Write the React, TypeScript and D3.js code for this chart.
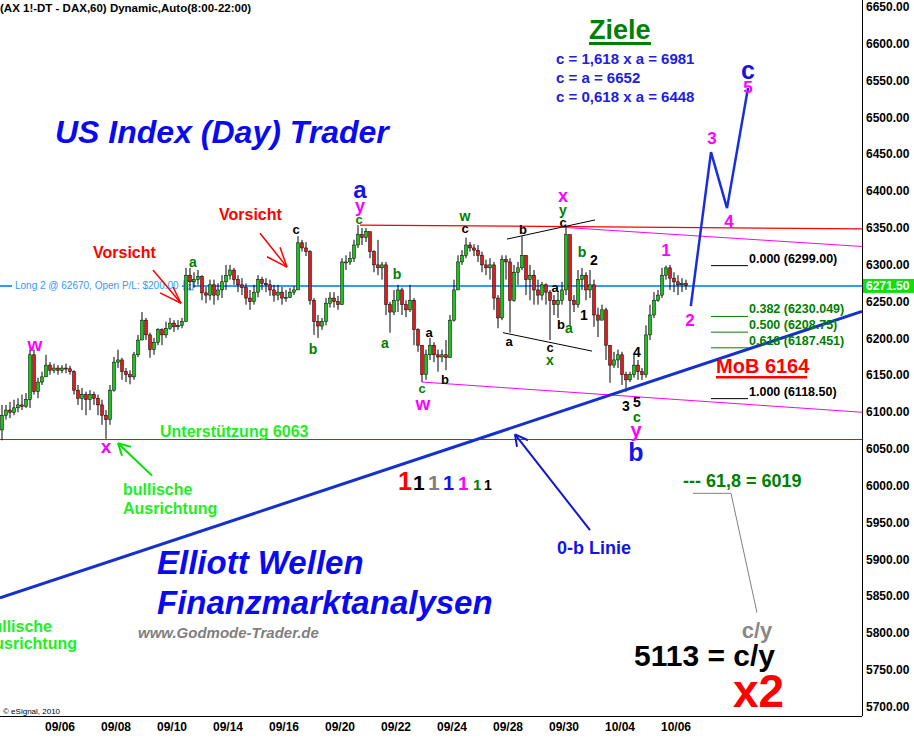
import React from "react";
import * as d3 from "d3";

const W = 914,
  H = 738;
const plotRight = 862,
  plotBottom = 716;
const FONT = "Arial, 'Liberation Sans', sans-serif";

// hourly DAX bars: [high, low, close], open = previous close
const firstOpen = 6076;
const bars: [number, number, number][] = [
  [6110, 6062, 6096], [6110, 6090, 6103], [6114, 6092, 6100], [6117, 6096, 6106], [6119, 6100, 6110], [6124, 6103, 6108], [6126, 6106, 6117],
  [6185, 6106, 6178], [6185, 6124, 6128], [6147, 6119, 6141], [6155, 6137, 6148], [6178, 6148, 6164], [6168, 6151, 6157], [6166, 6153, 6160],
  [6164, 6151, 6157], [6164, 6153, 6160], [6166, 6153, 6159], [6163, 6151, 6155], [6157, 6124, 6130], [6137, 6110, 6119], [6133, 6103, 6124],
  [6128, 6096, 6117], [6130, 6103, 6124], [6128, 6110, 6119], [6124, 6096, 6110], [6117, 6083, 6096], [6103, 6064, 6090], [6137, 6083, 6130],
  [6175, 6128, 6168], [6185, 6160, 6171], [6174, 6144, 6155], [6160, 6141, 6151], [6157, 6138, 6148], [6182, 6144, 6178], [6205, 6175, 6198],
  [6236, 6198, 6225], [6228, 6198, 6205], [6208, 6174, 6185], [6201, 6178, 6195], [6214, 6191, 6212], [6214, 6191, 6205], [6223, 6201, 6214],
  [6228, 6212, 6221], [6225, 6209, 6216], [6225, 6212, 6218], [6228, 6214, 6223], [6296, 6223, 6286], [6296, 6266, 6277], [6290, 6269, 6280],
  [6293, 6273, 6284], [6286, 6252, 6262], [6270, 6248, 6259], [6280, 6252, 6273], [6280, 6246, 6259], [6275, 6252, 6266], [6286, 6255, 6277],
  [6300, 6266, 6286], [6300, 6280, 6293], [6296, 6273, 6280], [6286, 6263, 6273], [6282, 6259, 6269], [6275, 6246, 6255], [6266, 6239, 6250],
  [6273, 6246, 6263], [6286, 6256, 6280], [6284, 6266, 6275], [6282, 6263, 6273], [6280, 6258, 6266], [6273, 6250, 6259], [6273, 6252, 6263],
  [6270, 6246, 6255], [6266, 6250, 6256], [6269, 6255, 6263], [6271, 6259, 6266], [6339, 6266, 6330], [6334, 6318, 6323], [6331, 6312, 6318],
  [6320, 6246, 6252], [6255, 6205, 6223], [6232, 6201, 6217], [6228, 6212, 6223], [6255, 6218, 6248], [6263, 6242, 6255], [6263, 6242, 6250],
  [6258, 6239, 6246], [6309, 6246, 6304], [6313, 6293, 6304], [6318, 6300, 6309], [6334, 6304, 6327], [6354, 6323, 6341], [6350, 6327, 6337],
  [6350, 6331, 6345], [6345, 6309, 6318], [6320, 6290, 6300], [6334, 6286, 6296], [6304, 6280, 6300], [6304, 6232, 6246], [6250, 6208, 6236],
  [6266, 6232, 6252], [6273, 6236, 6266], [6269, 6232, 6246], [6252, 6229, 6239], [6273, 6236, 6252], [6255, 6191, 6212], [6214, 6182, 6191],
  [6191, 6141, 6151], [6185, 6144, 6178], [6201, 6171, 6191], [6195, 6168, 6178], [6185, 6155, 6175], [6185, 6168, 6178], [6198, 6157, 6174],
  [6232, 6174, 6225], [6280, 6223, 6266], [6313, 6266, 6304], [6320, 6300, 6313], [6337, 6309, 6327], [6331, 6318, 6323], [6328, 6312, 6320],
  [6327, 6304, 6313], [6318, 6290, 6300], [6307, 6286, 6296], [6309, 6280, 6300], [6304, 6239, 6255], [6259, 6214, 6228], [6313, 6225, 6307],
  [6313, 6280, 6304], [6309, 6208, 6252], [6300, 6250, 6290], [6304, 6273, 6296], [6339, 6293, 6313], [6313, 6259, 6280], [6300, 6252, 6286],
  [6293, 6246, 6266], [6280, 6246, 6259], [6277, 6252, 6273], [6275, 6246, 6263], [6266, 6198, 6252], [6259, 6232, 6246], [6263, 6228, 6252],
  [6277, 6246, 6266], [6351, 6259, 6341], [6341, 6216, 6252], [6259, 6236, 6246], [6293, 6242, 6280], [6296, 6266, 6286], [6290, 6252, 6266],
  [6293, 6255, 6273], [6280, 6216, 6232], [6242, 6202, 6225], [6246, 6225, 6239], [6242, 6171, 6191], [6191, 6140, 6164], [6182, 6160, 6171],
  [6185, 6160, 6178], [6182, 6137, 6151], [6155, 6128, 6144], [6155, 6141, 6151], [6178, 6147, 6164], [6171, 6144, 6155], [6160, 6144, 6151],
  [6218, 6147, 6205], [6246, 6198, 6232], [6263, 6228, 6252], [6266, 6250, 6259], [6296, 6255, 6286], [6299, 6280, 6296], [6300, 6266, 6282],
  [6290, 6263, 6277], [6286, 6259, 6273], [6282, 6263, 6275], [6280, 6266, 6272],
];

const dateLabels = ["09/06", "09/08", "09/10", "09/14", "09/16", "09/20", "09/22", "09/24", "09/28", "09/30", "10/04", "10/06"];
const dateTickBars = [14.5, 28.5, 42.5, 56.5, 70.5, 84.5, 98.5, 112.5, 126.5, 140.5, 154.5, 168.5];
const priceTicks = d3.range(5700, 6651, 50);

const lastPrice = 6271.5;
const supportLevel = 6063;
const fibHigh = 6299;
const fibLow = 6118.5;
const fibRatios = [0, 0.382, 0.5, 0.618, 1];

// lines as [bar index, price]
const resistanceLine: [number, number][] = [[89.5, 6354], [215, 6349]];
const upperPinkLine: [number, number][] = [[140.25, 6351], [215, 6325]];
const lowerPinkLine: [number, number][] = [[105, 6141], [215, 6100]];
const trendLine: [number, number][] = [[-0.5, 5848], [215, 6237]];
const channelTop: [number, number][] = [[126.25, 6335], [148.25, 6361]];
const channelBottom: [number, number][] = [[125.25, 6208], [147.5, 6183]];
const projection: [number, number][] = [[172.2, 6244], [177.25, 6453], [181.25, 6377], [186.5, 6540]];
const leaderLine: [number, number][] = [[172.75, 5990], [182.25, 5990], [188.75, 5828]];

const redArrows: { tip: [number, number]; tails: [number, number][] }[] = [
  { tip: [44.75, 6248], tails: [[37.75, 6293], [39.5, 6262], [42.75, 6270]] },
  { tip: [71.25, 6297], tails: [[64.5, 6343], [66.25, 6311], [69.5, 6324]] },
];
const greenArrow = { tip: [29, 6058] as [number, number], tail: [37.5, 6014] as [number, number], heads: [[32.25, 6053], [30, 6041]] as [number, number][] };
const blueArrow = { tip: [128.25, 6070] as [number, number], tail: [147, 5940] as [number, number], heads: [[128.75, 6053], [131.5, 6062]] as [number, number][] };

const G = "#008000",
  K = "#000",
  M = "#ff00ff",
  B = "#1414e6";

// Elliott wave counts: [text, x, y, color, size]
const waveLabels: [string, number, number, string, number][] = [
  ["w", 35, 344, M, 19], ["x", 106, 446, M, 19],
  ["a", 193, 262, G, 14], ["c", 296, 229, K, 13], ["b", 313, 349, G, 14],
  ["a", 360, 189, B, 24], ["y", 360, 206, M, 18], ["c", 359, 219, G, 13],
  ["a", 385, 343, G, 14], ["b", 397, 274, G, 14], ["c", 422, 388, G, 13], ["w", 423, 403, M, 19],
  ["a", 429, 332, K, 13], ["b", 445, 379, K, 13], ["w", 465, 216, G, 14], ["c", 465, 228, K, 13],
  ["b", 523, 229, K, 13], ["a", 509, 341, K, 13], ["c", 550, 347, K, 13], ["x", 550, 360, G, 14],
  ["x", 563, 196, M, 18], ["y", 563, 210, G, 14], ["c", 563, 222, K, 13],
  ["a", 555, 287, K, 13], ["b", 561, 324, K, 13], ["a", 569, 328, G, 14], ["b", 582, 252, G, 14],
  ["2", 594, 260, K, 14], ["1", 584, 315, K, 14], ["4", 637, 352, K, 14], ["3", 626, 406, K, 14],
  ["5", 637, 402, K, 14], ["c", 637, 417, G, 14], ["y", 636, 430, M, 20], ["b", 636, 452, B, 25],
  ["1", 666, 250, M, 17], ["2", 690, 320, M, 17], ["3", 712, 138, M, 17], ["4", 729, 221, M, 17],
  ["5", 748, 87, M, 17], ["c", 748, 70, B, 25],
];

const ones: [string, number, number][] = [
  ["#ff0000", 398, 25], ["#000", 413, 21], ["#808080", 428, 21], ["#1414e6", 443, 20],
  ["#ff00ff", 458, 19], ["#008000", 473, 15], ["#000", 484, 14],
];

const targets = ["c = 1,618 x a = 6981", "c = a = 6652", "c = 0,618 x a = 6448"];

const xs = d3.scaleLinear().domain([-0.5, 215]).range([0, plotRight]);
const ys = d3.scaleLinear().domain([5700, 6650]).range([707, 7]);
const line = d3
  .line<[number, number]>()
  .x((d) => xs(d[0]))
  .y((d) => ys(d[1]));

const fibText = (v: number) => {
  const s = v.toFixed(3);
  return s.endsWith("0") ? v.toFixed(2) : s;
};

export default function App() {
  const candles = bars.map((b, i) => {
    const [h, l, c] = b;
    const o = i === 0 ? firstOpen : bars[i - 1][2];
    const x = xs(i);
    const top = ys(Math.max(o, c));
    const bh = Math.max(1, Math.abs(ys(o) - ys(c)));
    return (
      <g key={i}>
        <line x1={x} x2={x} y1={ys(h)} y2={ys(l)} stroke="#000" strokeWidth={1} />
        <rect x={x - 1.5} y={top} width={3} height={bh} fill={c >= o ? "#19c419" : "#e41a1a"} stroke="#000" strokeWidth={0.5} />
      </g>
    );
  });

  const fibRange = fibHigh - fibLow;
  const yLast = ys(lastPrice);

  return (
    <svg width={W} height={H} style={{ position: "absolute", left: 0, top: 0, background: "#fff" }} fontFamily={FONT}>
      <rect width={W} height={H} fill="#fff" />

      {/* horizontal levels */}
      <line x1={0} x2={plotRight} y1={ys(supportLevel)} y2={ys(supportLevel)} stroke="#008000" strokeWidth={1} />
      <path d={line(resistanceLine)!} stroke="#ff0000" strokeWidth={1.2} fill="none" />
      <path d={line(upperPinkLine)!} stroke="#ff00ff" strokeWidth={1} fill="none" />
      <path d={line(lowerPinkLine)!} stroke="#ff00ff" strokeWidth={1} fill="none" />
      <path d={line(channelTop)!} stroke="#000" strokeWidth={1} fill="none" />
      <path d={line(channelBottom)!} stroke="#000" strokeWidth={1} fill="none" />

      {/* position line */}
      <line x1={0} x2={plotRight} y1={yLast} y2={yLast} stroke="#3399ff" strokeWidth={2} />
      <rect x={12} y={yLast - 6} width={170} height={12} fill="#fff" />
      <text x={15} y={yLast + 3.5} fontSize={10} fill="#3399ff">
        Long 2 @ 62670, Open P/L: $200.00
      </text>
      <rect x={184} y={yLast - 5} width={9} height={9} fill="#fff" stroke="#3399ff" strokeWidth={1} />
      <text x={188.5} y={yLast + 3} fontSize={8} fill="#3399ff" textAnchor="middle">Z</text>

      {candles}

      {/* trend line and projection */}
      <path d={line(trendLine)!} stroke="#1530d0" strokeWidth={3} fill="none" />
      <path d={line(projection)!} stroke="#1a2ee0" strokeWidth={2.5} fill="none" />

      {/* Fibonacci retracements */}
      {fibRatios.map((r) => {
        const v = fibHigh - r * fibRange;
        const y = ys(v);
        const col = r === 0 || r === 1 ? "#000" : "#008000";
        return (
          <g key={r}>
            <line x1={711} x2={748} y1={y} y2={y} stroke={col} strokeWidth={1} />
            <text x={749} y={y - 3} fontSize={12.5} fontWeight="bold" fill={col}>
              {`${r.toFixed(3)} (${fibText(v)})`}
            </text>
          </g>
        );
      })}

      {/* arrows */}
      {redArrows.map((a, i) => (
        <g key={i}>
          {a.tails.map((t, j) => (
            <path key={j} d={line([t, a.tip])!} stroke="#ff0000" strokeWidth={1.5} fill="none" />
          ))}
        </g>
      ))}
      <path d={line([greenArrow.tail, greenArrow.tip])!} stroke="#00e000" strokeWidth={2} fill="none" />
      {greenArrow.heads.map((h, j) => (
        <path key={j} d={line([h, greenArrow.tip])!} stroke="#00e000" strokeWidth={2} fill="none" />
      ))}
      <path d={line([blueArrow.tail, blueArrow.tip])!} stroke="#1414d0" strokeWidth={2} fill="none" />
      {blueArrow.heads.map((h, j) => (
        <path key={j} d={line([h, blueArrow.tip])!} stroke="#1414d0" strokeWidth={2} fill="none" />
      ))}
      <path d={line(leaderLine)!} stroke="#808080" strokeWidth={1} fill="none" />

      {/* wave labels */}
      {waveLabels.map(([t, x, y, c, s], i) => (
        <text key={i} x={x} y={y} fontSize={s} fontWeight="bold" fill={c} textAnchor="middle" dominantBaseline="central">
          {t}
        </text>
      ))}

      {/* text annotations */}
      <text x={0} y={12} fontSize={11.5} fontWeight="bold" fill="#000">
        (AX 1!-DT - DAX,60) Dynamic,Auto(8:00-22:00)
      </text>
      <text x={589} y={39} fontSize={27} fontWeight="bold" fill="#008000">Ziele</text>
      <rect x={589} y={42} width={62} height={3} fill="#008000" />
      {targets.map((t, i) => (
        <text key={t} x={556} y={64 + i * 19} fontSize={15} fontWeight="bold" fill="#2020e0">
          {t}
        </text>
      ))}
      <text x={55} y={143} fontSize={32} fontWeight="bold" fontStyle="italic" fill="#0a0af0">
        US Index (Day) Trader
      </text>
      <text x={93} y={258} fontSize={16} fontWeight="bold" fill="#ff0000">Vorsicht</text>
      <text x={219} y={220} fontSize={16} fontWeight="bold" fill="#ff0000">Vorsicht</text>
      <text x={160} y={437} fontSize={16} fontWeight="bold" fill="#22ee22">Unterstützung 6063</text>
      <text x={123} y={495} fontSize={16} fontWeight="bold" fill="#22ee22">bullische</text>
      <text x={123} y={514} fontSize={16} fontWeight="bold" fill="#22ee22">Ausrichtung</text>
      <text x={52} y={632} fontSize={16} fontWeight="bold" fill="#22ee22" textAnchor="end">bullische</text>
      <text x={77} y={649} fontSize={16} fontWeight="bold" fill="#22ee22" textAnchor="end">Ausrichtung</text>
      <text x={716} y={373} fontSize={20} fontWeight="bold" fill="#ff0000">MoB 6164</text>
      <rect x={716} y={376} width={91} height={2.5} fill="#ff0000" />
      {ones.map(([c, x, s], i) => (
        <text key={i} x={x} y={490} fontSize={s} fontWeight="bold" fill={c}>1</text>
      ))}
      <text x={557} y={554} fontSize={18} fontWeight="bold" fill="#1414e6">0-b Linie</text>
      <text x={683} y={487} fontSize={18} fontWeight="bold" fill="#008000">--- 61,8 = 6019</text>
      <text x={157} y={574} fontSize={33} fontWeight="bold" fontStyle="italic" fill="#0a0af0">Elliott Wellen</text>
      <text x={157} y={614} fontSize={33} fontWeight="bold" fontStyle="italic" fill="#0a0af0">Finanzmarktanalysen</text>
      <text x={138} y={638} fontSize={15} fontWeight="bold" fontStyle="italic" fill="#808080">www.Godmode-Trader.de</text>
      <text x={757} y={638} fontSize={22} fontWeight="bold" fill="#888" textAnchor="middle">c/y</text>
      <text x={634} y={666} fontSize={30} fontWeight="bold" fill="#000">5113 = c/y</text>
      <text x={733} y={707} fontSize={46} fontWeight="bold" fill="#ff0000">x2</text>
      <text x={3} y={714} fontSize={8} fill="#000">© eSignal, 2010</text>

      {/* axes */}
      <line x1={plotRight + 0.5} x2={plotRight + 0.5} y1={0} y2={plotBottom} stroke="#000" />
      <line x1={0} x2={plotRight} y1={plotBottom + 0.5} y2={plotBottom + 0.5} stroke="#000" />
      {priceTicks.map((p) => (
        <text key={p} x={866} y={ys(p)} fontSize={12} fontWeight="bold" fill="#000" dominantBaseline="central">
          {p.toFixed(2)}
        </text>
      ))}
      <rect x={863} y={yLast - 7} width={51} height={14} fill="#11dd11" />
      <text x={866} y={yLast} fontSize={12} fontWeight="bold" fill="#fff" dominantBaseline="central">
        {lastPrice.toFixed(2)}
      </text>
      {dateLabels.map((d, i) => (
        <text key={d} x={xs(dateTickBars[i])} y={731} fontSize={12} fontWeight="bold" fill="#000" textAnchor="middle">
          {d}
        </text>
      ))}
    </svg>
  );
}
